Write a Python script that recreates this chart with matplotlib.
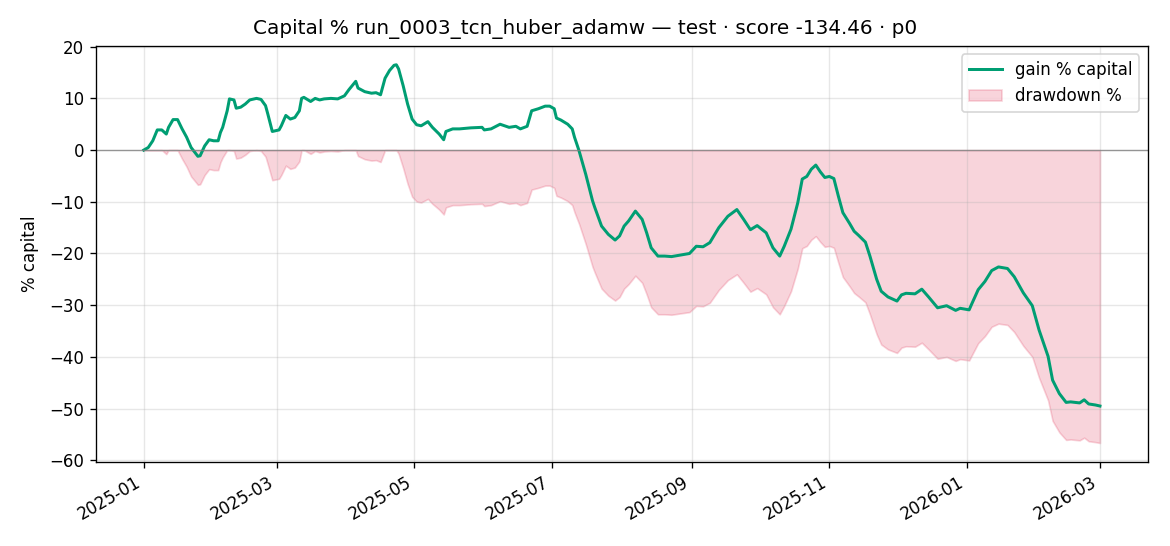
#!/usr/bin/env python3
"""
Capital % curve with drawdown shading for one test run
"""

import matplotlib
matplotlib.use('Agg')
import matplotlib.pyplot as plt
import matplotlib.dates as mdates
import numpy as np
import pandas as pd

plt.rcParams['font.family'] = 'DejaVu Sans'
plt.rcParams['axes.unicode_minus'] = True

RUN_NAME = 'run_0003_tcn_huber_adamw'
SPLIT = 'test'
SCORE = -134.46
PERIOD = 'p0'

# gain % of capital
dates = [
    '2025-01-01', '2025-01-03', '2025-01-05', '2025-01-07', '2025-01-09', '2025-01-11',
    '2025-01-12', '2025-01-14', '2025-01-16', '2025-01-18', '2025-01-20', '2025-01-22',
    '2025-01-25', '2025-01-26', '2025-01-28', '2025-01-30', '2025-02-01', '2025-02-03',
    '2025-02-04', '2025-02-05', '2025-02-07', '2025-02-08', '2025-02-10', '2025-02-11',
    '2025-02-13', '2025-02-15', '2025-02-17', '2025-02-20', '2025-02-22', '2025-02-24',
    '2025-02-25', '2025-02-27', '2025-03-02', '2025-03-03', '2025-03-05', '2025-03-07',
    '2025-03-09', '2025-03-11', '2025-03-12', '2025-03-13', '2025-03-16', '2025-03-18',
    '2025-03-20', '2025-03-22', '2025-03-25', '2025-03-28', '2025-03-31', '2025-04-02',
    '2025-04-05', '2025-04-06', '2025-04-09', '2025-04-12', '2025-04-14', '2025-04-16',
    '2025-04-18', '2025-04-20', '2025-04-22', '2025-04-23', '2025-04-24', '2025-04-26',
    '2025-04-28', '2025-04-30', '2025-05-02', '2025-05-04', '2025-05-07', '2025-05-09',
    '2025-05-12', '2025-05-14', '2025-05-15', '2025-05-18', '2025-05-21', '2025-05-26',
    '2025-05-31', '2025-06-01', '2025-06-04', '2025-06-08', '2025-06-12', '2025-06-15',
    '2025-06-17', '2025-06-20', '2025-06-22', '2025-06-25', '2025-06-28', '2025-06-30',
    '2025-07-02', '2025-07-03', '2025-07-05', '2025-07-08', '2025-07-10', '2025-07-11',
    '2025-07-13', '2025-07-16', '2025-07-19', '2025-07-20', '2025-07-23', '2025-07-26',
    '2025-07-29', '2025-07-31', '2025-08-02', '2025-08-04', '2025-08-07', '2025-08-10',
    '2025-08-12', '2025-08-14', '2025-08-17', '2025-08-20', '2025-08-23', '2025-08-27',
    '2025-08-31', '2025-09-03', '2025-09-06', '2025-09-09', '2025-09-13', '2025-09-17',
    '2025-09-21', '2025-09-24', '2025-09-27', '2025-09-30', '2025-10-04', '2025-10-07',
    '2025-10-10', '2025-10-12', '2025-10-15', '2025-10-18', '2025-10-20', '2025-10-22',
    '2025-10-24', '2025-10-26', '2025-10-28', '2025-10-30', '2025-11-01', '2025-11-03',
    '2025-11-05', '2025-11-07', '2025-11-10', '2025-11-12', '2025-11-14', '2025-11-17',
    '2025-11-19', '2025-11-22', '2025-11-24', '2025-11-27', '2025-12-01', '2025-12-03',
    '2025-12-05', '2025-12-09', '2025-12-12', '2025-12-15', '2025-12-19', '2025-12-23',
    '2025-12-27', '2025-12-29', '2026-01-02', '2026-01-03', '2026-01-06', '2026-01-09',
    '2026-01-12', '2026-01-15', '2026-01-19', '2026-01-22', '2026-01-26', '2026-01-30',
    '2026-02-02', '2026-02-06', '2026-02-08', '2026-02-11', '2026-02-14', '2026-02-16',
    '2026-02-20', '2026-02-22', '2026-02-24', '2026-02-27', '2026-03-01',
]

gain_pct = [
    0.0, 0.5, 1.8, 3.9, 3.9, 3.1,
    4.4, 5.9, 5.9, 4.1, 2.5, 0.5,
    -1.2, -1.1, 0.8, 2.0, 1.8, 1.8,
    3.4, 4.4, 7.6, 9.9, 9.7, 8.1,
    8.3, 8.9, 9.7, 10.0, 9.8, 8.6,
    7.0, 3.6, 3.9, 4.7, 6.7, 6.0,
    6.3, 7.6, 10.0, 10.2, 9.4, 10.0,
    9.7, 9.9, 10.0, 9.9, 10.5, 11.7,
    13.3, 12.0, 11.3, 11.0, 11.1, 10.7,
    13.9, 15.4, 16.4, 16.5, 15.7, 12.5,
    8.9, 6.0, 4.9, 4.7, 5.5, 4.4,
    3.1, 2.0, 3.6, 4.1, 4.1, 4.3,
    4.4, 3.9, 4.1, 5.0, 4.4, 4.6,
    4.1, 4.6, 7.6, 8.0, 8.5, 8.5,
    8.0, 6.2, 5.8, 5.0, 4.1, 2.5,
    -0.1, -4.7, -9.8, -11.1, -14.7, -16.3,
    -17.4, -16.6, -14.7, -13.7, -11.8, -13.4,
    -16.0, -18.9, -20.5, -20.5, -20.6, -20.3,
    -20.0, -18.6, -18.7, -17.9, -15.0, -12.8,
    -11.5, -13.4, -15.4, -14.6, -16.0, -18.9,
    -20.5, -18.6, -15.3, -10.2, -5.6, -5.1,
    -3.7, -2.9, -4.2, -5.3, -5.1, -5.5,
    -8.9, -12.1, -14.2, -15.7, -16.5, -17.8,
    -20.5, -25.0, -27.3, -28.4, -29.2, -28.0,
    -27.7, -27.8, -26.9, -28.4, -30.5, -30.1,
    -31.0, -30.6, -30.9, -29.9, -27.0, -25.4,
    -23.3, -22.6, -22.9, -24.5, -27.6, -30.1,
    -34.8, -39.9, -44.5, -47.1, -48.8, -48.7,
    -48.9, -48.3, -49.1, -49.3, -49.5,
]


def compute_drawdown(gain):
    """Drawdown % of equity (100 + gain) from its running peak"""
    equity = 100.0 + np.asarray(gain, dtype=float)
    peak = np.maximum.accumulate(equity)
    return (equity / peak - 1.0) * 100.0


def main():
    x = pd.to_datetime(dates)
    gain = np.asarray(gain_pct, dtype=float)
    dd = compute_drawdown(gain)

    fig = plt.figure(figsize=(9.75, 4.55), dpi=120)
    ax = fig.add_axes([0.082, 0.154, 0.899, 0.762])

    ax.plot(x, gain, color='#009E73', linewidth=1.8, label='gain % capital')
    ax.fill_between(x, dd, 0, color='crimson', alpha=0.18, label='drawdown %')
    ax.axhline(0, color='grey', linewidth=0.8, alpha=0.8)

    fig.suptitle(f'Capital % {RUN_NAME} \u2014 {SPLIT} \u00b7 score {SCORE:.2f} \u00b7 {PERIOD}',
                 fontsize=12, y=0.965)
    ax.set_ylabel('% capital', labelpad=6)
    ax.grid(True, alpha=0.3)
    ax.legend(loc='upper right')

    ax.xaxis.set_major_locator(mdates.MonthLocator(bymonth=[1, 3, 5, 7, 9, 11]))
    ax.xaxis.set_major_formatter(mdates.DateFormatter('%Y-%m'))
    for label in ax.get_xticklabels():
        label.set_rotation(30)
        label.set_ha('right')

    fig.savefig('out.png', dpi=120)


if __name__ == '__main__':
    main()
